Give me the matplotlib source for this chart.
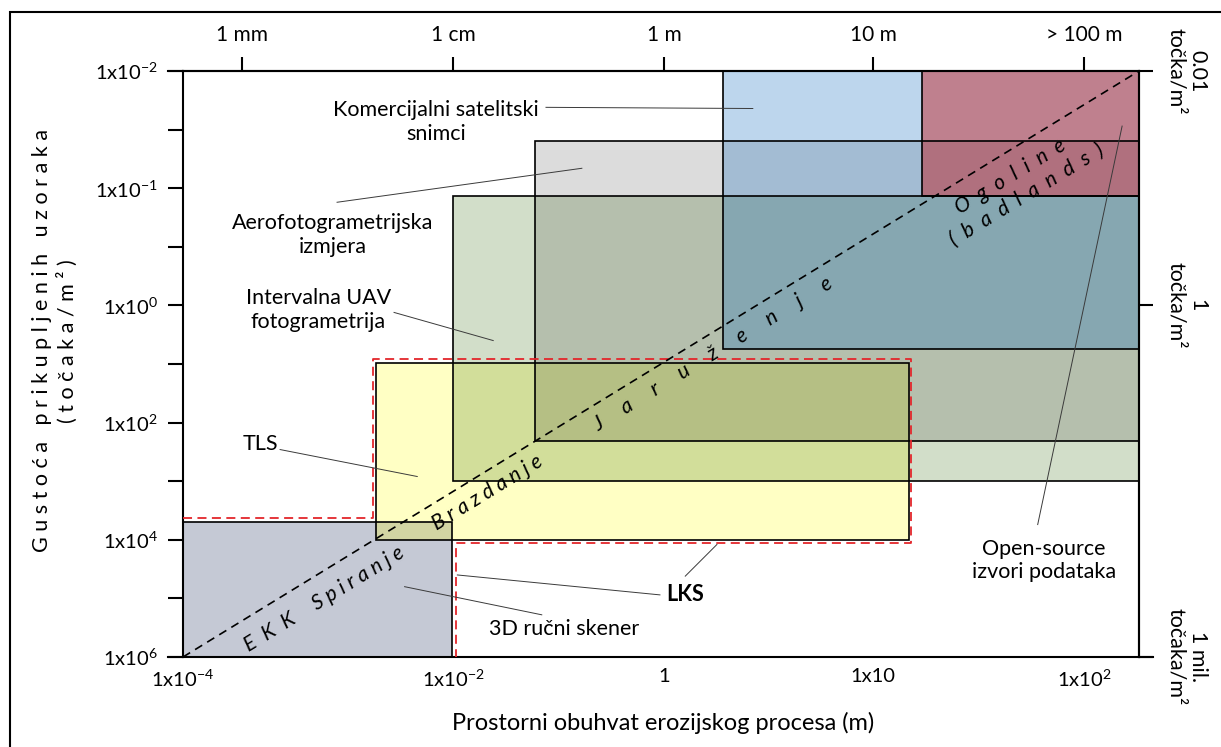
import matplotlib
matplotlib.use("Agg")
import matplotlib.pyplot as plt
from matplotlib.patches import Rectangle
import numpy as np

plt.rcParams['font.family'] = ['Lato', 'DejaVu Sans']
plt.rcParams['mathtext.fontset'] = 'custom'
plt.rcParams['mathtext.rm'] = 'Lato'
plt.rcParams['mathtext.it'] = 'Lato:italic'
plt.rcParams['mathtext.bf'] = 'Lato:bold'

# osi (jedinice položaja na grafu)
x_tick_pos = [0, 1.28, 2.28, 3.27, 4.27]
x_tick_lab = [r'1x10$^{-4}$', r'1x10$^{-2}$', '1', '1x10', r'1x10$^{2}$']
top_tick_pos = [0.28, 1.28, 2.28, 3.27, 4.27]
top_tick_lab = ['1 mm', '1 cm', '1 m', '10 m', '> 100 m']
y_tick_pos = [0, 1, 2, 3, 4, 5]
y_tick_lab = [r'1x10$^{-2}$', r'1x10$^{-1}$', r'1x10$^{0}$', r'1x10$^{2}$', r'1x10$^{4}$', r'1x10$^{6}$']
y_minor_pos = [0.5, 1.5, 2.5, 3.5, 4.5]
right_tick_pos = [0, 2, 5]
right_tick_lab = ['0.01\ntočka/m²', '1\ntočka/m²', '1 mil.\ntočaka/m²']
x_max = 4.53
y_max = 5.0

# metode: (x0, x1, y0, y1)
methods = ['3D ručni skener', 'TLS', 'UAV', 'Aerofoto', 'Satelit', 'Open-source']
x0 = [0.0, 0.915, 1.28, 1.67, 2.56, 3.50]
x1 = [1.275, 3.44, 4.53, 4.53, 4.53, 4.53]
y0 = [3.85, 2.49, 1.07, 0.60, 0.0, 0.0]
y1 = [5.0, 4.00, 3.50, 3.16, 2.37, 1.07]
colors = [(0, 0.084, 0.29, 0.227),
          (1, 1, 0, 0.23),
          (0.184, 0.392, 0, 0.212),
          (0, 0, 0, 0.137),
          (0, 0.394, 0.741, 0.259),
          (0.77, 0, 0, 0.4)]

# LKS obrub
lks_x = [0, 0.90, 0.90, 3.45, 3.45, 1.294, 1.294]
lks_y = [3.81, 3.81, 2.46, 2.46, 4.03, 4.03, 5.0]

fig = plt.figure(figsize=(12.21, 7.47), dpi=100)
W, H = 1221, 747
ax = fig.add_axes([183 / W, (H - 657) / H, 956 / W, 586 / H])
ax.set_xlim(0, x_max)
ax.set_ylim(y_max, 0)

for i in range(len(methods)):
    ax.add_patch(Rectangle((x0[i], y0[i]), x1[i] - x0[i], y1[i] - y0[i],
                           facecolor=colors[i], edgecolor='none', zorder=1))
for i in range(len(methods)):
    ax.add_patch(Rectangle((x0[i], y0[i]), x1[i] - x0[i], y1[i] - y0[i],
                           facecolor='none', edgecolor='black', lw=1.2, zorder=2))

ax.plot(lks_x, lks_y, color='#e3262b', lw=1.3, ls=(0, (5, 3)), zorder=3, clip_on=False)

# dijagonala
ax.plot([0, x_max], [y_max, 0], color='black', lw=1.2, ls=(0, (5, 3.5)), zorder=4)

fig.canvas.draw()
p0 = ax.transData.transform((0, y_max))
p1 = ax.transData.transform((x_max, 0))
ang = np.degrees(np.arctan2(p1[1] - p0[1], p1[0] - p0[0]))

diag_words = ['E  K  K', 'S p i r a n j e', 'B r a z d a n j e',
              'J     a     r     u     ž     e     n     j     e',
              'O  g  o  l  i  n  e', '(  b  a  d  l  a  n  d  s  )']
diag_x = [0.41, 0.83, 1.44, 2.51, 3.92, 4.00]
diag_y = [4.79, 4.33, 3.60, 2.42, 0.90, 1.06]
for w, tx, ty in zip(diag_words, diag_x, diag_y):
    ax.text(tx, ty, w, rotation=ang, rotation_mode='anchor', ha='center', va='center',
            fontsize=15, style='italic', zorder=5)

# oznake s linijama
lab_txt = ['Komercijalni satelitski\nsnimci', 'Aerofotogrametrijska\nizmjera',
           'Intervalna UAV\nfotogrametrija', 'TLS', '3D ručni skener', 'LKS',
           'Open-source\nizvori podataka']
lab_x = [1.20, 0.71, 0.64, 0.365, 1.806, 2.38, 4.08]
lab_y = [0.435, 1.40, 2.04, 3.18, 4.76, 4.47, 4.18]
lab_w = ['normal', 'normal', 'normal', 'normal', 'normal', 'bold', 'normal']
for t, tx, ty, fw in zip(lab_txt, lab_x, lab_y, lab_w):
    ax.text(tx, ty, t, ha='center', va='center', fontsize=15.5, fontweight=fw,
            linespacing=1.2, zorder=6)

lead_x = [(1.72, 2.70), (0.73, 1.89), (1.00, 1.47), (0.46, 1.11), (1.70, 1.05),
          (1.30, 2.26), (2.38, 2.53), (4.05, 4.45)]
lead_y = [(0.31, 0.32), (1.12, 0.83), (2.06, 2.30), (3.23, 3.46), (4.64, 4.40),
          (4.30, 4.47), (4.31, 4.04), (3.87, 0.47)]
for lx, ly in zip(lead_x, lead_y):
    ax.plot(lx, ly, color='#3a3a3a', lw=0.7, zorder=6)

# osi i oznake
for s in ax.spines.values():
    s.set_linewidth(1.5)
ax.set_xticks(x_tick_pos, x_tick_lab)
ax.tick_params(axis='x', length=0, pad=8, labelsize=14.5)
ax.set_yticks(y_tick_pos, y_tick_lab)
ax.set_yticks(y_minor_pos, minor=True)
ax.tick_params(axis='y', which='both', length=11, width=1.5, pad=7, labelsize=14.5)

top = ax.secondary_xaxis('top')
top.set_xticks(top_tick_pos, top_tick_lab)
top.tick_params(length=10, width=1.5, pad=9, labelsize=15)
top.spines['top'].set_linewidth(1.5)

right = ax.secondary_yaxis('right')
right.set_yticks(right_tick_pos, [''] * len(right_tick_pos))
right.tick_params(length=10, width=1.5)
right.spines['right'].set_linewidth(1.5)
for t, ty in zip(right_tick_lab, right_tick_pos):
    ax.text(1.050, 1 - ty / y_max, t, transform=ax.transAxes, rotation=270,
            ha='center', va='center', fontsize=15.5, linespacing=1.1,
            multialignment='center')

# lijevi/donji produžeci linija
ax.plot([-0.07, 0], [0, 0], color='black', lw=1.5, clip_on=False)
ax.plot([-0.07, 0], [y_max, y_max], color='black', lw=1.5, clip_on=False)
ax.plot([x_max, x_max + 0.067], [y_max, y_max], color='black', lw=1.5, clip_on=False)

fig.text(55 / W, 1 - 341 / H,
         'G u s t o ć a   p r i k u p l j e n i h   u z o r a k a\n( t o č a k a / m ² )',
         rotation=90, ha='center', va='center', multialignment='center',
         fontsize=15.5, linespacing=1.25)
fig.text(663 / W, 1 - 723 / H, 'Prostorni obuhvat erozijskog procesa (m)',
         ha='center', va='center', fontsize=17)

fig.add_artist(Rectangle((10 / W, -0.1), 1.2, 1 - 12 / H + 0.1, transform=fig.transFigure,
                         fill=False, lw=1.5, edgecolor='black'))

fig.savefig('out.png', dpi=100)
